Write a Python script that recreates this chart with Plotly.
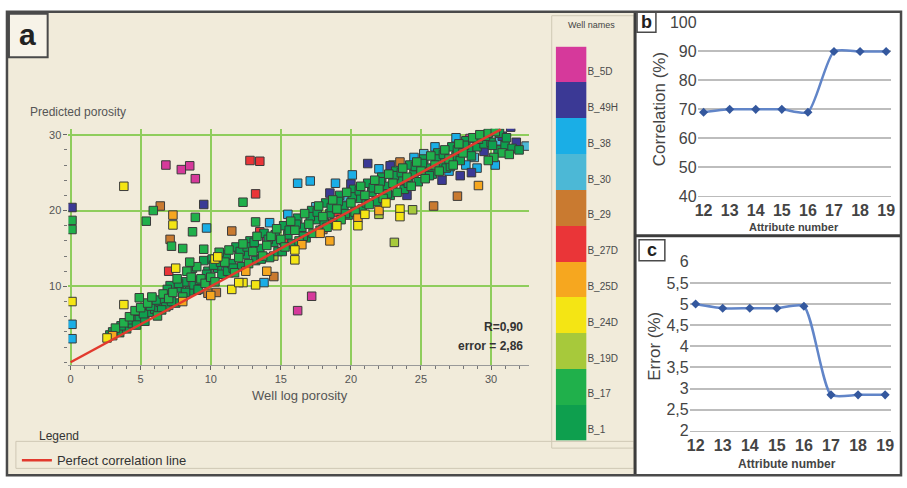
import plotly.graph_objects as go

W, H = 907, 488
def fx(p): return p / W
def fy(p): return 1 - p / H

FONT = "Liberation Sans, Arial, sans-serif"

# ---------------- data ----------------
well_names = ["B_1", "B_17", "B_19D", "B_24D", "B_25D", "B_27D", "B_29", "B_30", "B_38", "B_49H", "B_5D"]
well_colors = ["#0e9f4e", "#20b04b", "#a7c93b", "#f4e514", "#f6a71f", "#ea3538", "#c97a30", "#4cb8d6", "#1aaee6", "#3b3995", "#d6399b"]

points = {
    "B_5D": [(6.8, 26.0), (7.9, 25.4), (8.5, 25.9), (8.9, 24.2), (17.2, 8.7), (16.2, 6.8), (14.0, 16.0), (28.5, 29.5)],
    "B_49H": [(0.1, 20.4), (9.5, 20.8), (21.2, 26.2), (22.8, 25.9), (31.4, 31.0), (30.8, 29.8), (29.5, 27.8), (27.8, 24.6),
              (28.6, 25.0), (26.5, 24.0), (20.0, 23.5), (24.0, 22.0), (31.8, 29.0), (18.5, 22.3)],
    "B_38": [(0.1, 5.0), (0.1, 3.1), (9.7, 17.7), (13.8, 10.5), (16.2, 23.6), (17.1, 23.9), (18.9, 23.6), (20.1, 24.7),
             (15.5, 19.5), (14.2, 18.4), (22.0, 25.5), (24.5, 27.0), (26.0, 28.4), (27.5, 29.6), (28.2, 26.0), (29.0, 25.6),
             (30.3, 26.0), (27.0, 25.2), (12.0, 15.0), (10.5, 13.0), (6.5, 8.0)],
    "B_30": [(32.5, 28.5), (19.5, 21.8), (21.5, 23.0), (23.0, 26.0), (25.2, 27.5), (28.8, 27.0), (30.6, 29.2), (17.5, 20.5),
             (11.0, 12.3), (7.0, 7.5)],
    "B_29": [(6.4, 20.6), (7.1, 16.2), (5.8, 8.4), (23.5, 26.4), (25.9, 20.6), (27.6, 21.9), (14.5, 11.3), (18.0, 17.5),
             (9.8, 9.1), (10.4, 9.2), (11.5, 17.3)],
    "B_27D": [(12.8, 26.6), (13.5, 26.5), (13.2, 22.2), (7.0, 12.0), (13.5, 17.2), (15.2, 16.0), (19.0, 19.8), (11.3, 11.8)],
    "B_25D": [(7.3, 19.4), (29.1, 23.3), (16.5, 15.5), (20.5, 19.0), (22.0, 20.0), (12.5, 12.0), (17.8, 17.0), (8.0, 8.0),
              (3.0, 3.5), (14.0, 12.0), (18.5, 16.0), (10.0, 8.8)],
    "B_24D": [(3.8, 23.2), (7.3, 18.1), (7.5, 12.4), (10.3, 13.6), (10.5, 13.9), (3.8, 7.6), (2.6, 3.2), (11.5, 9.6),
              (12.3, 10.5), (13.2, 10.2), (23.5, 20.2), (23.5, 19.2), (0.1, 8.0), (19.0, 18.0), (21.0, 19.5), (16.0, 14.8),
              (22.5, 21.0), (16.0, 13.5), (20.5, 18.0), (12.0, 10.5)],
    "B_19D": [(23.1, 15.8), (24.4, 20.1), (14.5, 14.0), (9.0, 9.5), (18.5, 18.2), (20.6, 20.0), (22.0, 19.5)],
    "B_1": [(2.8, 3.6), (3.5, 3.9), (4.0, 4.4), (4.4, 5.1), (4.8, 5.6), (5.3, 5.4), (5.6, 6.6), (6.0, 7.0), (6.4, 7.9),
            (6.8, 7.3), (7.1, 10.1), (7.5, 7.8), (7.8, 9.8), (8.1, 10.6), (8.5, 9.4), (8.8, 10.2), (9.1, 9.6), (9.5, 13.4),
            (9.8, 12.0), (10.1, 13.6), (10.5, 12.4), (10.8, 11.6), (11.2, 12.0), (11.5, 13.0), (11.8, 15.2), (12.2, 12.6),
            (12.5, 14.2), (12.8, 16.0), (13.2, 13.4), (13.5, 15.0), (13.8, 17.0), (14.2, 13.8), (14.5, 15.8), (14.8, 14.6),
            (15.2, 18.0), (15.5, 16.8), (15.8, 15.6), (16.2, 19.0), (16.5, 17.8), (16.8, 16.4), (17.2, 20.0), (17.5, 18.8),
            (17.8, 17.4), (18.2, 21.0), (18.5, 19.6), (18.8, 18.4), (19.2, 22.0), (19.5, 20.6), (19.8, 19.4), (20.2, 22.8),
            (20.5, 21.6), (20.8, 20.2), (21.2, 23.6), (21.5, 22.4), (21.8, 21.2), (22.2, 24.4), (22.5, 23.2), (22.8, 22.0),
            (23.2, 25.2), (23.5, 24.0), (23.8, 22.8), (24.2, 26.0), (24.5, 24.8), (24.8, 23.8), (25.2, 26.8), (25.5, 25.6),
            (25.8, 24.8), (26.2, 27.6), (26.5, 26.4), (26.8, 25.6), (27.2, 28.4), (27.5, 27.2), (27.8, 26.6), (28.2, 29.2),
            (28.5, 28.0), (29.0, 28.4), (29.5, 28.8), (30.0, 29.0), (30.5, 28.0), (31.0, 28.6),
            (3.0, 4.0), (3.6, 4.8), (4.3, 5.6), (4.7, 4.9), (5.2, 6.4), (5.7, 7.4), (6.1, 8.2), (6.5, 6.9), (6.9, 9.6),
            (7.2, 8.0), (7.7, 10.4), (8.2, 9.2), (8.7, 12.4), (9.2, 10.8), (9.7, 11.6), (10.2, 12.8), (10.7, 13.2),
            (11.1, 14.2), (11.6, 12.4), (12.1, 14.6), (12.6, 15.2), (13.1, 15.8), (13.6, 13.6), (14.1, 16.2), (14.6, 16.8),
            (15.1, 14.6), (15.6, 17.4), (16.1, 18.2), (16.6, 16.6), (17.1, 19.2), (17.6, 19.8), (18.1, 18.4), (18.6, 20.4),
            (19.1, 21.2), (19.6, 19.6), (20.1, 21.8), (20.6, 22.6), (21.1, 21.0), (21.6, 23.0), (22.1, 23.8), (22.6, 22.2),
            (23.1, 24.6), (23.6, 25.0), (24.1, 23.6), (24.6, 25.8), (25.1, 26.2), (25.6, 24.6), (26.1, 26.8), (26.6, 27.4),
            (27.1, 25.8), (27.6, 28.0), (28.1, 28.6), (28.6, 27.2), (29.1, 29.4), (29.6, 29.8), (30.1, 28.6), (30.6, 30.2),
            (31.5, 28.2), (31.1, 29.6), (32.0, 28.0)],
    "B_17": [(3.2, 4.5), (3.8, 5.2), (4.2, 6.0), (4.6, 6.8), (5.0, 7.2), (5.5, 7.8), (5.8, 8.6), (6.2, 6.1), (6.6, 9.0),
             (7.0, 8.4), (7.3, 9.2), (7.6, 11.0), (8.0, 8.6), (8.3, 12.0), (8.6, 11.2), (9.0, 12.6), (9.3, 11.0), (9.6, 10.4),
             (10.0, 11.2), (10.3, 10.6), (10.6, 14.5), (11.0, 13.2), (11.3, 14.8), (11.7, 11.8), (12.0, 13.8), (12.3, 15.6),
             (12.7, 13.0), (13.0, 14.6), (13.3, 16.6), (13.7, 14.0), (14.0, 15.4), (14.3, 16.6), (14.7, 17.6), (15.0, 16.2),
             (15.3, 15.2), (15.7, 18.6), (16.0, 17.4), (16.3, 16.0), (16.7, 19.6), (17.0, 18.2), (17.3, 17.0), (17.7, 20.6),
             (18.0, 19.2), (18.3, 17.8), (18.7, 21.4), (19.0, 20.2), (19.3, 18.8), (19.7, 22.4), (20.0, 21.0), (20.3, 19.8),
             (20.7, 23.2), (21.0, 22.0), (21.3, 20.8), (21.7, 24.0), (22.0, 22.8), (22.3, 21.6), (22.7, 24.8), (23.0, 23.6),
             (23.3, 22.4), (23.7, 25.6), (24.0, 24.4), (24.3, 23.2), (24.7, 26.4), (25.0, 25.2), (25.3, 24.2), (25.7, 27.2),
             (26.0, 26.0), (26.3, 25.2), (26.7, 28.0), (27.0, 26.8), (27.3, 26.0), (27.7, 28.8), (28.0, 27.6), (28.7, 29.6),
             (29.2, 30.0), (29.8, 30.2), (30.3, 30.4), (30.8, 27.6), (30.2, 27.0), (29.8, 26.6), (31.3, 27.4), (8.5, 13.2),
             (9.5, 14.9), (12.3, 21.1), (5.9, 20.0), (5.4, 18.6), (8.9, 19.1), (8.7, 17.2), (13.2, 18.5), (0.1, 18.7),
             (0.1, 17.5), (4.9, 8.5), (7.2, 15.3), (8.0, 15.0)],
}
draw_order = ["B_5D", "B_30", "B_38", "B_49H", "B_29", "B_27D", "B_19D", "B_1", "B_17", "B_25D", "B_24D"]

perfect_x = [0, 30.7]
perfect_y = [0, 30.7]
stats_text = ["R=0,90", "error = 2,86"]

attr_num = [12, 13, 14, 15, 16, 17, 18, 19]
corr_pct = [69, 70, 70, 70, 69, 90, 90, 90]
err_pct = [5.0, 4.9, 4.9, 4.9, 4.95, 2.85, 2.85, 2.85]

x_ticks_a = [0, 5, 10, 15, 20, 25, 30]
y_ticks_a = [10, 20, 30]
y_ticks_b = [40, 50, 60, 70, 80, 90, 100]
y_ticks_c = [2, 2.5, 3, 3.5, 4, 4.5, 5, 5.5, 6]
y_ticktext_c = ["2", "2,5", "3", "3,5", "4", "4,5", "5", "5,5", "6"]

# ---------------- figure ----------------
fig = go.Figure()

color_of = dict(zip(well_names, well_colors))
for w in draw_order:
    pts = points[w]
    fig.add_trace(go.Scatter(
        x=[p[0] for p in pts], y=[p[1] for p in pts], mode="markers", name=w, showlegend=False,
        marker=dict(symbol="square", size=8.5, color=color_of[w], line=dict(color="#3a3a3a", width=1)),
        xaxis="x", yaxis="y", hoverinfo="skip"))

fig.add_trace(go.Scatter(x=perfect_x, y=perfect_y, mode="lines", name="Perfect correlation line",
                         line=dict(color="#e23a2e", width=2.5), xaxis="x", yaxis="y", showlegend=True))

# colour key (heatmap)
n = len(well_names)
cs = []
for i, c in enumerate(well_colors):
    cs.append([i / n, c])
    cs.append([(i + 1) / n, c])
fig.add_trace(go.Heatmap(z=[[i] for i in range(n)], x=[0], y=list(range(n)), colorscale=cs,
                         zmin=-0.5, zmax=n - 0.5, showscale=False, xaxis="x2", yaxis="y2", hoverinfo="skip"))

# panel b
fig.add_trace(go.Scatter(x=attr_num, y=corr_pct, mode="lines+markers", showlegend=False,
                         line=dict(color="#6185c8", width=2.5, shape="spline", smoothing=0.6),
                         marker=dict(symbol="diamond", size=7, color="#34589e"), xaxis="x3", yaxis="y3"))
# panel c
fig.add_trace(go.Scatter(x=attr_num, y=err_pct, mode="lines+markers", showlegend=False,
                         line=dict(color="#6185c8", width=2.5, shape="spline", smoothing=0.6),
                         marker=dict(symbol="diamond", size=7, color="#34589e"), xaxis="x4", yaxis="y4"))

grid_green = "#8fcd5c"
tick_font_a = dict(family=FONT, size=11, color="#555555")
big_tick = dict(family=FONT, size=16, color="#444444", weight="bold")

fig.update_layout(
    width=W, height=H, margin=dict(l=0, r=0, t=0, b=0),
    paper_bgcolor="white", plot_bgcolor="white",
    font=dict(family=FONT),
    showlegend=True,
    legend=dict(x=fx(14), y=fy(453), xanchor="left", yanchor="top", bgcolor="rgba(0,0,0,0)",
                font=dict(family=FONT, size=13, color="#333333"), itemwidth=30, tracegroupgap=0),
    xaxis=dict(domain=[fx(66), fx(530)], range=[-0.15, 32.7], anchor="y",
               tickvals=x_ticks_a, showgrid=True, gridcolor=grid_green, gridwidth=2, zeroline=False,
               ticks="outside", ticklen=4, tickcolor="#666", tickfont=tick_font_a,
               minor=dict(dtick=1, tick0=0, ticks="outside", ticklen=3, tickcolor="#777", showgrid=False),
               showline=True, linecolor="#999", linewidth=1),
    yaxis=dict(domain=[fy(370), fy(125)], range=[-0.38, 30.8], anchor="x",
               tickvals=y_ticks_a, showgrid=True, gridcolor=grid_green, gridwidth=2, zeroline=False,
               ticks="outside", ticklen=4, tickcolor="#666", tickfont=tick_font_a,
               minor=dict(dtick=2, tick0=0, ticks="outside", ticklen=3, tickcolor="#777", showgrid=False),
               showline=False),
    xaxis2=dict(domain=[fx(557), fx(588)], anchor="y2", range=[-0.5, 0.5], visible=False),
    yaxis2=dict(domain=[fy(448), fy(40)], anchor="x2", range=[-0.5, n - 0.5], side="right",
                tickvals=[i - 0.2 for i in range(n)], ticktext=well_names, ticks="",
                tickfont=dict(family=FONT, size=10, color="#4a4a4a"), showgrid=False, zeroline=False, showline=False),
    xaxis3=dict(domain=[fx(700), fx(895)], range=[11.77, 19.19], anchor="y3",
                tickvals=attr_num, showgrid=False, zeroline=False, ticks="", tickfont=big_tick,
                showline=True, linecolor="#bbbbbb", linewidth=1),
    yaxis3=dict(domain=[fy(195), fy(15)], range=[40, 100], anchor="x3",
                tickvals=y_ticks_b, showgrid=True, gridcolor="#bdbdbd", gridwidth=1.5, zeroline=False,
                ticks="", tickfont=dict(family=FONT, size=16, color="#444444"), showline=False),
    xaxis4=dict(domain=[fx(692), fx(895)], range=[11.78, 19.22], anchor="y4",
                tickvals=attr_num, showgrid=False, zeroline=False, ticks="", tickfont=big_tick,
                showline=True, linecolor="#bbbbbb", linewidth=1),
    yaxis4=dict(domain=[fy(438), fy(263)], range=[2, 6], anchor="x4",
                tickvals=y_ticks_c, ticktext=y_ticktext_c, showgrid=True, gridcolor="#bdbdbd", gridwidth=1.5,
                zeroline=False, ticks="", tickfont=dict(family=FONT, size=16, color="#444444"), showline=False),
)

shapes = [
    # panel a background
    dict(type="rect", xref="paper", yref="paper", x0=fx(5), x1=fx(637), y0=fy(483), y1=fy(5),
         fillcolor="#f1ebda", line=dict(width=0), layer="below"),
    # colour key frame
    dict(type="rect", xref="paper", yref="paper", x0=fx(553), x1=fx(636), y0=fy(456), y1=fy(8),
         line=dict(color="#cfc8b4", width=1), layer="below"),
    # legend frame
    dict(type="rect", xref="paper", yref="paper", x0=fx(13), x1=fx(636), y0=fy(477), y1=fy(449),
         line=dict(color="#cfc8b4", width=1), layer="below"),
    # label a box
    dict(type="rect", xref="paper", yref="paper", x0=fx(6), x1=fx(45), y0=fy(51), y1=fy(6),
         fillcolor="#f7f3e8", line=dict(color="#4a4a4a", width=2)),
    # label b box
    dict(type="rect", xref="paper", yref="paper", x0=fx(639), x1=fx(658), y0=fy(25), y1=fy(4),
         fillcolor="white", line=dict(color="#4a4a4a", width=1.5)),
    # label c box
    dict(type="rect", xref="paper", yref="paper", x0=fx(641), x1=fx(667), y0=fy(262), y1=fy(240),
         fillcolor="white", line=dict(color="#4a4a4a", width=1.5)),
    # divider a | b,c
    dict(type="line", xref="paper", yref="paper", x0=fx(637), x1=fx(637), y0=fy(484), y1=fy(4),
         line=dict(color="#3c3c3c", width=3)),
    # divider b / c
    dict(type="line", xref="paper", yref="paper", x0=fx(637), x1=fx(905), y0=fy(236), y1=fy(236),
         line=dict(color="#3c3c3c", width=3)),
    # outer frame
    dict(type="rect", xref="paper", yref="paper", x0=fx(4), x1=fx(905), y0=fy(484), y1=fy(4),
         line=dict(color="#4a4a4a", width=2.5)),
]
fig.update_layout(shapes=shapes)

ann = [
    dict(text="<b>a</b>", x=fx(25), y=fy(27), font=dict(size=30, color="#222")),
    dict(text="<b>b</b>", x=fx(648.5), y=fy(14), font=dict(size=18, color="#222")),
    dict(text="<b>c</b>", x=fx(654), y=fy(251), font=dict(size=18, color="#222")),
    dict(text="Predicted porosity", x=fx(25), y=fy(108), xanchor="left", font=dict(size=12, color="#555")),
    dict(text="Well log porosity", x=fx(299), y=fy(402), font=dict(size=13, color="#555")),
    dict(text="<b>" + stats_text[0] + "</b>", x=fx(526), y=fy(330), xanchor="right", font=dict(size=12, color="#333")),
    dict(text="<b>" + stats_text[1] + "</b>", x=fx(526), y=fy(350), xanchor="right", font=dict(size=12, color="#333")),
    dict(text="Well names", x=fx(567), y=fy(18), xanchor="left", font=dict(size=9, color="#444")),
    dict(text="Legend", x=fx(34), y=fy(443), xanchor="left", font=dict(size=12, color="#333")),
    dict(text="Correlation (%)", x=fx(661), y=fy(105), textangle=-90, font=dict(size=17, color="#444")),
    dict(text="<b>Attribute number</b>", x=fx(797), y=fy(227), font=dict(size=11, color="#444")),
    dict(text="Error (%)", x=fx(657), y=fy(350), textangle=-90, font=dict(size=17, color="#444")),
    dict(text="<b>Attribute number</b>", x=fx(790), y=fy(472), font=dict(size=12, color="#444")),
]
for a in ann:
    a.update(xref="paper", yref="paper", showarrow=False, yanchor="middle")
    a.setdefault("xanchor", "center")
    a["font"]["family"] = FONT
fig.update_layout(annotations=ann)

fig.write_html("out.html")
